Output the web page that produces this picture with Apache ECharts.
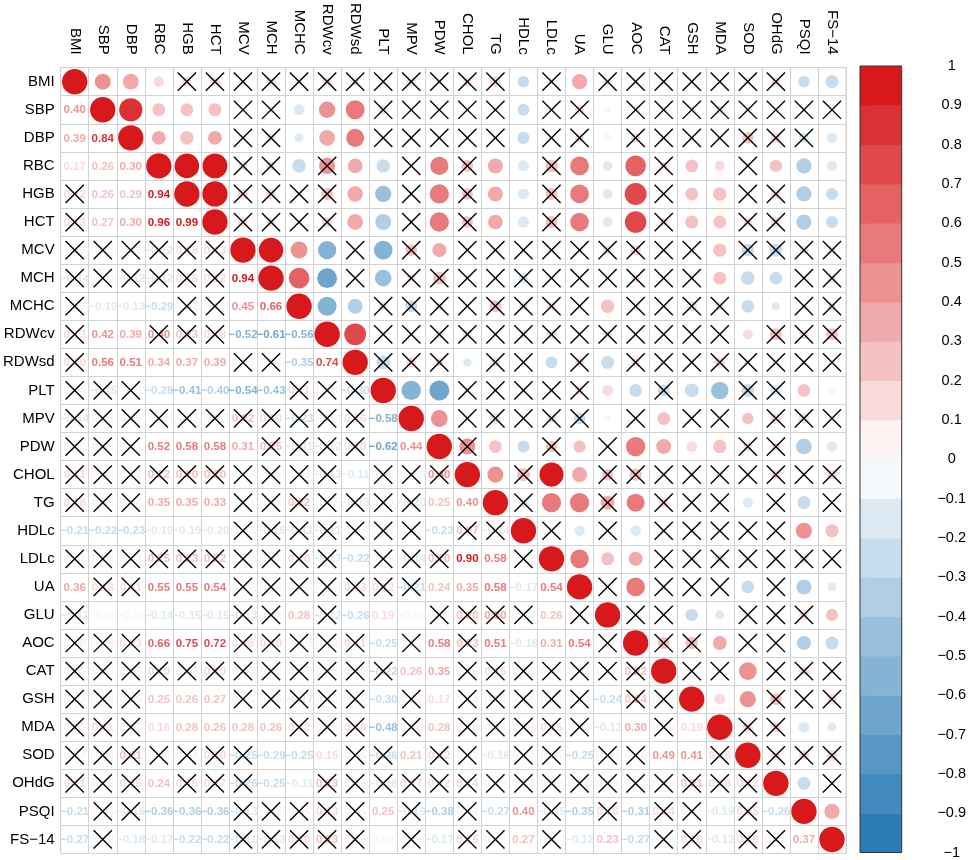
<!DOCTYPE html>
<html>
<head>
<meta charset="utf-8">
<script src="https://cdn.jsdelivr.net/npm/echarts@6/dist/echarts.min.js"></script>
<style>
html,body{margin:0;padding:0;background:#fff;}
#chart{width:969px;height:860px;}
</style>
</head>
<body>
<div id="chart"></div>
<script>
var vars = ['BMI','SBP','DBP','RBC','HGB','HCT','MCV','MCH','MCHC','RDWcv','RDWsd','PLT','MPV','PDW',
	'CHOL','TG','HDLc','LDLc','UA','GLU','AOC','CAT','GSH','MDA','SOD','OHdG','PSQI','FS\u221214'];

// lower triangle, row i holds r with columns 0..i-1
var corrLower = [
	[0.40],
	[0.39,0.84],
	[0.17,0.26,0.30],
	[0.12,0.26,0.29,0.94],
	[0.13,0.27,0.30,0.96,0.99],
	[-0.10,-0.05,-0.10,-0.12,0.18,0.13],
	[-0.14,-0.10,-0.12,-0.12,0.18,0.12,0.94],
	[-0.10,-0.19,-0.13,-0.29,-0.05,-0.08,0.45,0.66],
	[0.13,0.42,0.39,0.40,0.23,0.18,-0.52,-0.61,-0.56],
	[0.10,0.56,0.51,0.34,0.37,0.39,0.06,0.04,-0.35,0.74],
	[0.04,-0.15,-0.10,-0.28,-0.41,-0.40,-0.54,-0.43,0.11,0.08,-0.30],
	[-0.14,0.03,0.05,-0.04,-0.05,-0.05,0.22,0.10,-0.23,-0.04,0.16,-0.58],
	[0.05,0.05,0.01,0.52,0.58,0.58,0.31,0.25,-0.11,-0.12,0.10,-0.62,0.44],
	[0.11,0.02,0.01,0.22,0.20,0.20,-0.04,-0.04,0.04,-0.13,-0.11,0.05,-0.10,0.40],
	[0.18,0.05,0.04,0.35,0.35,0.33,-0.10,-0.06,0.22,-0.05,-0.13,0.03,-0.20,0.25,0.40],
	[-0.21,-0.22,-0.23,-0.19,-0.19,-0.20,-0.05,-0.16,-0.11,-0.11,-0.04,0.05,0.00,-0.23,0.27,-0.14],
	[0.07,0.03,0.03,0.25,0.23,0.22,-0.05,-0.03,0.10,-0.17,-0.22,0.05,-0.14,0.20,0.90,0.58,0.02],
	[0.36,0.13,0.11,0.55,0.55,0.54,-0.08,-0.05,0.05,-0.04,0.13,0.12,-0.21,0.24,0.35,0.58,-0.17,0.54],
	[-0.11,-0.09,-0.10,-0.14,-0.15,-0.15,-0.13,-0.05,0.28,-0.12,-0.26,0.19,-0.06,0.03,0.20,0.30,-0.02,0.26,0.08],
	[0.08,0.08,0.13,0.66,0.75,0.72,0.18,0.10,-0.05,0.03,0.11,-0.25,0.02,0.58,0.23,0.51,-0.18,0.31,0.54,-0.03],
	[0.05,0.08,0.06,0.10,0.08,0.10,0.04,0.02,0.05,0.03,0.05,-0.22,0.26,0.35,0.05,0.15,0.03,0.04,0.05,0.02,0.22],
	[0.03,0.04,0.06,0.25,0.26,0.27,0.06,0.05,-0.17,0.02,0.05,-0.30,0.06,0.17,0.04,0.03,0.05,0.03,0.04,-0.24,0.24,0.02],
	[0.05,0.11,0.07,0.16,0.28,0.26,0.28,0.26,0.12,0.05,0.18,-0.48,0.06,0.28,0.08,0.05,0.04,0.15,0.03,-0.13,0.30,0.08,0.19],
	[0.07,0.09,0.21,0.05,0.04,0.10,-0.25,-0.29,-0.25,0.15,0.05,-0.26,0.21,0.12,0.02,-0.16,0.04,0.05,-0.25,0.04,0.06,0.49,0.41,0.16],
	[0.11,0.03,0.15,0.24,0.15,0.17,-0.26,-0.25,-0.11,0.23,0.05,-0.18,0.17,0.12,0.14,0.09,0.09,0.09,0.05,0.09,0.07,0.08,0.21,0.18,0.12],
	[-0.21,0.03,-0.16,-0.36,-0.36,-0.36,-0.13,-0.05,0.04,0.13,0.06,0.25,-0.19,-0.38,0.07,-0.27,0.40,-0.15,-0.35,0.16,-0.31,0.14,0.05,-0.19,0.15,-0.26],
	[-0.27,-0.05,-0.18,-0.17,-0.22,-0.22,-0.11,-0.13,0.10,0.23,0.05,0.09,-0.06,-0.17,0.15,0.05,0.27,-0.04,-0.12,0.23,-0.27,-0.05,0.16,-0.12,0.18,0.02,0.37]
];

// x = not significant (crossed out), same layout as corrLower
var insigLower = [
	'.',
	'..',
	'...',
	'x...',
	'x....',
	'xxxxxx',
	'xxxxxx.',
	'x...xx..',
	'x..xxx...',
	'x.....xx..',
	'xxx.....xxx',
	'xxxxxxxxxxx.',
	'xxx....xxxx..',
	'xxxxxxxxxx.xxx',
	'xxx...xxxxxxx..',
	'......xxxxxxx.xx',
	'xxxxxxxxxx.xxx..x',
	'.xx...xxxxxxx.....',
	'x.....xx.x...xxxx.x',
	'xxx...xxxxx.x.x....x',
	'xxxxxxxxxxxx..xxxxxxx',
	'xxx...xxxxx.x.xxxxx.xx',
	'xxx.....xxx.x.xxxxx..x.',
	'xxxxxxx...xx.xx.xx.xx..x',
	'xxx.xxx..xxxxxxxxxxxxxxxx',
	'.xx...xxxxx.x.x..x.x.xx.x.',
	'.x....xxxxx.x.xx.x...xx.xx.'
];

var lowColor = '#2C7BB6', midColor = '#FFFFFF', highColor = '#D7191C';
var nColors = 20;

function hexRgb(h){
	return [parseInt(h.substr(1,2),16),parseInt(h.substr(3,2),16),parseInt(h.substr(5,2),16)];
}
function mix(a,b,t){
	var c1=hexRgb(a),c2=hexRgb(b);
	return 'rgb('+Math.round(c1[0]+(c2[0]-c1[0])*t)+','+Math.round(c1[1]+(c2[1]-c1[1])*t)+','+Math.round(c1[2]+(c2[2]-c1[2])*t)+')';
}
var palette=[];
for(var k=0;k<nColors;k++){
	var t=k/(nColors-1);
	palette.push(t<0.5?mix(lowColor,midColor,t/0.5):mix(midColor,highColor,(t-0.5)/0.5));
}
function colorFor(r){
	var idx=Math.floor((r+1)/2*nColors+1e-6);
	if(idx>nColors-1) idx=nColors-1;
	if(idx<0) idx=0;
	return palette[idx];
}
function fmt(v){
	return v.toFixed(2).replace('-','\u2212');
}

var n=vars.length;
var gridL=57, gridT=65.5, gridW=789, gridH=788;
var cellW=gridW/n;

var circleData=[], numberData=[], crossData=[];
for(var i=0;i<n;i++){
	circleData.push([i,i,1]);
	for(var j=0;j<i;j++){
		var r=corrLower[i-1][j];
		circleData.push([i,j,r]);
		numberData.push([j,i,r]);
		if(insigLower[i-1].charAt(j)==='x'){
			crossData.push([j,i]);
			crossData.push([i,j]);
		}
	}
}
var bandData=[];
for(var b=0;b<nColors;b++) bandData.push([b]);

var chart=echarts.init(document.getElementById('chart'));
var option={
	animation:false,
	textStyle:{fontFamily:'Liberation Sans'},
	grid:[
		{left:gridL,top:gridT,width:gridW,height:gridH,show:true,borderColor:'#d2d2d2',borderWidth:1},
		{left:860,top:66,width:42,height:787}
	],
	xAxis:[
		{
			type:'category',data:vars,position:'top',gridIndex:0,
			axisLine:{show:false},axisTick:{show:false},
			axisLabel:{rotate:90,margin:13,fontSize:15,color:'#000',interval:0},
			splitLine:{show:true,interval:0,lineStyle:{color:'#d2d2d2',width:1}}
		},
		{type:'value',gridIndex:1,min:0,max:1,show:false}
	],
	yAxis:[
		{
			type:'category',data:vars,inverse:true,gridIndex:0,
			axisLine:{show:false},axisTick:{show:false},
			axisLabel:{margin:6,fontSize:15,color:'#000',interval:0},
			splitLine:{show:true,interval:0,lineStyle:{color:'#d2d2d2',width:1}}
		},
		{
			type:'value',gridIndex:1,min:-1,max:1,interval:0.1,position:'right',
			axisLine:{show:false},
			axisTick:{show:true,length:8,lineStyle:{color:'#555'}},
			splitLine:{show:false},
			axisLabel:{
				margin:50,align:'center',fontSize:14.5,color:'#000',
				formatter:function(v){ return String(Number(v.toFixed(1))).replace('-','\u2212'); }
			}
		}
	],
	series:[
		{
			type:'scatter',xAxisIndex:0,yAxisIndex:0,data:circleData,silent:true,z:2,
			symbol:'circle',
			symbolSize:function(val){ return 0.9*cellW*Math.sqrt(Math.abs(val[2])); },
			itemStyle:{opacity:1,color:function(p){ return colorFor(p.value[2]); }}
		},
		{
			type:'custom',xAxisIndex:0,yAxisIndex:0,data:numberData,silent:true,z:3,clip:false,
			encode:{x:0,y:1},
			renderItem:function(params,api){
				var r=api.value(2);
				var p=api.coord([api.value(0),api.value(1)]);
				return {
					type:'text',x:p[0],y:p[1]+0.5,
					style:{text:fmt(r),fill:colorFor(r),align:'center',verticalAlign:'middle',
						fontSize:11.5,fontWeight:'bold',fontFamily:'Liberation Sans'}
				};
			}
		},
		{
			type:'custom',xAxisIndex:0,yAxisIndex:0,data:crossData,silent:true,z:4,
			encode:{x:0,y:1},
			renderItem:function(params,api){
				var p=api.coord([api.value(0),api.value(1)]);
				var h=api.size([1,1])[0]*0.325;
				var st={stroke:'#000',lineWidth:1.4};
				return {type:'group',children:[
					{type:'line',shape:{x1:p[0]-h,y1:p[1]-h,x2:p[0]+h,y2:p[1]+h},style:st},
					{type:'line',shape:{x1:p[0]-h,y1:p[1]+h,x2:p[0]+h,y2:p[1]-h},style:st}
				]};
			}
		},
		{
			type:'custom',xAxisIndex:1,yAxisIndex:1,data:bandData,silent:true,z:2,
			renderItem:function(params,api){
				var idx=api.value(0);
				var lo=-1+idx*2/nColors, hi=lo+2/nColors;
				var a=api.coord([0,hi]), c=api.coord([1,lo]);
				var kids=[{type:'rect',shape:{x:a[0],y:a[1],width:c[0]-a[0],height:c[1]-a[1]+0.5},style:{fill:palette[idx]}}];
				if(idx===nColors-1){
					var tl=api.coord([0,1]), br=api.coord([1,-1]);
					kids.push({type:'rect',z2:10,shape:{x:tl[0],y:tl[1],width:br[0]-tl[0],height:br[1]-tl[1]},
						style:{fill:'none',stroke:'#333',lineWidth:1}});
				}
				return {type:'group',children:kids};
			}
		}
	]
};
chart.setOption(option);
</script>
</body>
</html>
